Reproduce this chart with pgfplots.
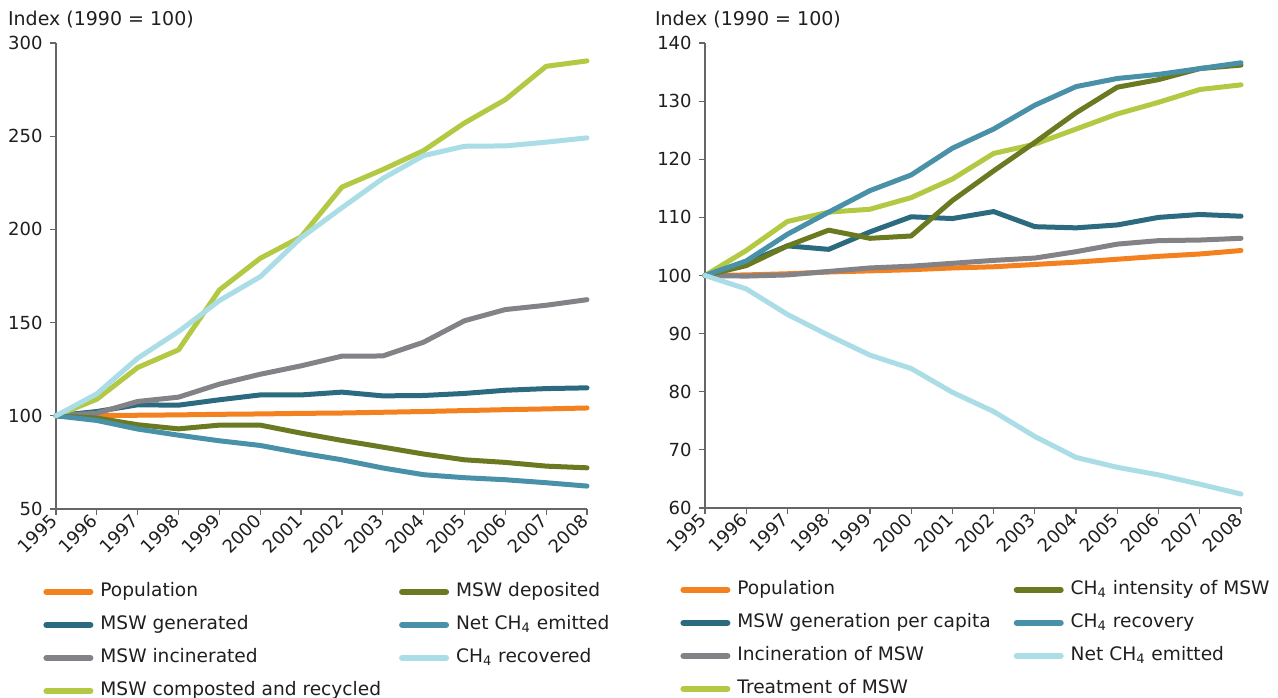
\documentclass[border=0pt]{standalone}
\usepackage{fontspec}
\setmainfont{DejaVu Sans}
\usepackage{pgfplots}
\usepackage{pgfplotstable}
\pgfplotsset{compat=1.18}
\definecolor{cPop}{HTML}{F4811F}
\definecolor{cGen}{HTML}{2C6B7F}
\definecolor{cInc}{HTML}{838387}
\definecolor{cCom}{HTML}{B3C944}
\definecolor{cDep}{HTML}{6A7A21}
\definecolor{cNet}{HTML}{4990A9}
\definecolor{cRec}{HTML}{ABDDE6}

\pgfplotstableread{
year pop gen inc com dep net rec
1995 100 100 100 100 100 100 100
1996 100.1 102.3 101.4 108.9 98.8 97.5 111.8
1997 100.3 105.9 107.7 125.9 95.2 92.9 130.9
1998 100.5 105.7 110.0 135.4 93.0 89.6 145.2
1999 100.8 108.6 117.0 167.5 95.0 86.6 161.8
2000 101.0 111.2 122.3 184.5 95.0 84.1 174.6
2001 101.3 111.2 126.8 196.0 90.7 80.0 195.5
2002 101.5 112.7 132.0 222.7 86.8 76.4 211.6
2003 101.9 110.7 132.1 232.1 83.2 72.0 227.3
2004 102.3 110.9 139.5 242.3 79.5 68.4 239.6
2005 102.8 112.0 151.0 257.1 76.4 66.8 244.6
2006 103.3 113.7 157.0 269.6 75.0 65.7 244.8
2007 103.7 114.6 159.3 287.5 73.0 64.1 246.8
2008 104.2 115.0 162.3 290.4 72.1 62.3 249.1
}\lefttab

\pgfplotstableread{
year pop gen inc trt int rcv net
1995 100 100 100 100 100 100 100
1996 100.1 102.2 99.9 104.3 101.7 102.5 97.7
1997 100.3 105.1 100.1 109.3 105.1 107.1 93.3
1998 100.6 104.5 100.7 110.9 107.8 110.9 89.7
1999 100.8 107.5 101.3 111.4 106.4 114.6 86.3
2000 101.0 110.1 101.6 113.4 106.8 117.3 84.0
2001 101.3 109.8 102.1 116.6 112.9 121.9 79.9
2002 101.5 111.0 102.6 121.0 118.0 125.2 76.6
2003 101.9 108.4 103.0 122.6 122.9 129.3 72.3
2004 102.3 108.2 104.1 125.2 128.0 132.5 68.7
2005 102.8 108.7 105.4 127.8 132.4 133.9 67.0
2006 103.3 110.0 106.0 129.8 133.7 134.6 65.7
2007 103.7 110.5 106.1 132.0 135.6 135.6 64.1
2008 104.3 110.2 106.4 132.8 136.2 136.6 62.4
}\righttab

\pgfplotsset{
  eea/.style={
    scale only axis,
    clip=false,
    axis lines=left,
    axis line style={draw=black!60, line width=0.6pt, -},
    xmin=1995, xmax=2008, xtick={1995,1996,...,2008},
    tick style={draw=black!60, line width=0.6pt},
    major tick length=3pt,
    tick align=outside,
    /pgf/number format/assume math mode=true,
    /pgf/number format/1000 sep={},
    tick label style={font=\fontsize{9}{10}\selectfont, text=black!88},
    x tick label style={rotate=45, anchor=east, inner sep=1.5pt},
    y tick label style={inner sep=2pt, xshift=-1.5pt},
    title style={font=\fontsize{9.5}{11}\selectfont, text=black!88, at={(0,1)}, anchor=base west, yshift=3pt},
    every axis plot/.append style={line width=2.5pt, line join=round, line cap=round, mark=none},
    legend image code/.code={\draw[#1, line width=3pt, line cap=round] (0pt,0pt) -- (22pt,0pt);},
    transpose legend,
    legend columns=4,
    legend cell align=left,
    legend style={draw=none, fill=none, inner sep=0pt, at={(0,0)}, anchor=north west,
      font=\fontsize{9.3}{10}\selectfont, text=black!88,
      nodes={text height=7pt, text depth=2.5pt, inner sep=3.5pt},
      row sep=0pt},
  }
}

\begin{document}
\begin{tikzpicture}
\path[use as bounding box] (0,0) rectangle (639pt,348.5pt);

\begin{axis}[eea,
  at={(28pt,94pt)}, anchor=south west,
  width=265.5pt, height=233pt,
  ymin=50, ymax=300, ytick={50,100,...,300},
  title={Index (1990 = 100)}, title style={xshift=-27.5pt},
  legend style={xshift=-6.5pt, yshift=-33pt, /tikz/every even column/.append style={column sep=5.5pt}},
]
\addplot[cPop] table[x=year,y=pop]{\lefttab};
\addlegendentry{Population}
\addplot[cGen] table[x=year,y=gen]{\lefttab};
\addlegendentry{MSW generated}
\addplot[cInc] table[x=year,y=inc]{\lefttab};
\addlegendentry{MSW incinerated}
\addplot[cCom] table[x=year,y=com]{\lefttab};
\addlegendentry{MSW composted and recycled}
\addplot[cDep] table[x=year,y=dep]{\lefttab};
\addlegendentry{MSW deposited}
\addplot[cNet] table[x=year,y=net]{\lefttab};
\addlegendentry{Net CH\textsubscript{4} emitted}
\addplot[cRec] table[x=year,y=rec]{\lefttab};
\addlegendentry{CH\textsubscript{4} recovered}
\end{axis}

\begin{axis}[eea,
  at={(352.5pt,94.5pt)}, anchor=south west,
  width=268pt, height=232.5pt,
  ymin=60, ymax=140, ytick={60,70,...,140},
  title={Index (1990 = 100)}, title style={xshift=-28.5pt},
  legend style={xshift=-12.5pt, yshift=-32.5pt, /tikz/every even column/.append style={column sep=8pt}},
]
\addplot[cPop] table[x=year,y=pop]{\righttab};
\addlegendentry{Population}
\addplot[cGen] table[x=year,y=gen]{\righttab};
\addlegendentry{MSW generation per capita}
\addplot[cInc] table[x=year,y=inc]{\righttab};
\addlegendentry{Incineration of MSW}
\addplot[cCom] table[x=year,y=trt]{\righttab};
\addlegendentry{Treatment of MSW}
\addplot[cDep] table[x=year,y=int]{\righttab};
\addlegendentry{CH\textsubscript{4} intensity of MSW}
\addplot[cNet] table[x=year,y=rcv]{\righttab};
\addlegendentry{CH\textsubscript{4} recovery}
\addplot[cRec] table[x=year,y=net]{\righttab};
\addlegendentry{Net CH\textsubscript{4} emitted}
\end{axis}
\end{tikzpicture}
\end{document}
